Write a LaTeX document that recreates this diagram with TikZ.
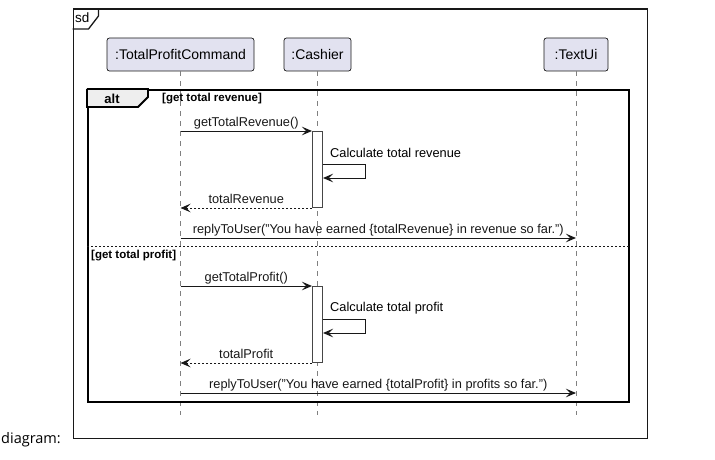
\documentclass[tikz,border=0pt]{standalone}
\usepackage{fontspec}
\setmainfont{Liberation Sans}
\newfontfamily\uifont{Open Sans}
\usetikzlibrary{positioning, arrows.meta, calc}
\definecolor{puFill}{HTML}{E2E2F0}
\definecolor{puLine}{HTML}{181818}
\definecolor{puTab}{HTML}{EEEEEE}
\tikzset{
  every node/.style={font=\fontsize{12.8}{14}\selectfont, inner sep=0pt},
  part/.style={draw=puLine, fill=puFill, rounded corners=2.5pt, minimum height=33pt,
               line width=0.7pt, font=\fontsize{14}{16}\selectfont},
  life/.style={puLine!55, dash pattern=on 5pt off 5pt, line width=0.7pt},
  act/.style={draw=puLine!80, fill=white, minimum width=10pt, line width=1pt},
  msg/.style={-{Stealth[length=10pt, width=8.5pt, inset=4pt]}, puLine, line width=1pt},
  ret/.style={msg, dash pattern=on 2pt off 2pt},
  lbl/.style={midway, anchor=base, yshift=5pt},
  guard/.style={font=\fontsize{11.5}{13}\selectfont\bfseries},
  frm/.style={draw, anchor=north west, fill=none},
}

\begin{document}
\begin{tikzpicture}[x=1pt, y=-1pt]
  \useasboundingbox (0,0) rectangle (715,460);
  % sd frame
  \node[frm, draw=puLine, line width=1.3pt, minimum width=574pt, minimum height=429pt] (sd) at (72.5,8.5) {};
  \draw[puLine, line width=1.3pt] (sd.north west) ++(0,20.5) -- ++(16,0) -- ++(10,-13) -- ++(0,-7.5);
  \node[anchor=west, font=\fontsize{13.5}{15}\selectfont] (sdlbl) at (75,18) {sd};
  \node[anchor=base west, font=\uifont\fontsize{14.5}{16}\selectfont] (cap) at (1,443) {diagram:};

  % participants and lifelines
  \node[part, minimum width=147pt] (tpc) at (180.5,54.5) {:TotalProfitCommand};
  \node[part, minimum width=67pt] (cash) at (317.5,54.5) {:Cashier};
  \node[part, minimum width=64pt] (tui) at (576,54.5) {:TextUi};
  \coordinate (lifeEnd) at (0,415);
  \foreach \p in {tpc, cash, tui}
    \draw[life] (\p.south) -- (\p.south |- lifeEnd);

  % alt fragment
  \node[frm, draw=black, line width=1.8pt, minimum width=541pt, minimum height=312pt] (alt) at (87,89) {};
  \draw[fill=puTab, line width=1.8pt] (alt.north west) -- ++(61,0) -- ++(0,8) -- ++(-10,10) -| (alt.north west);
  \node[font=\fontsize{13}{15}\selectfont\bfseries] (altlbl) at (112,98.5) {alt};
  \node[guard, anchor=west] (g1) at (162,98.5) {[get total revenue]};
  \coordinate (sep) at (0,246);
  \draw[puLine, dash pattern=on 2pt off 2pt, line width=0.9pt] (alt.west |- sep) -- (alt.east |- sep);
  \node[guard, anchor=west] (g2) at (91,256) {[get total profit]};

  % revenue branch
  \node[act, minimum height=76pt, anchor=north] (act1) at (cash.south |- 0,131) {};
  \draw[msg] (tpc.south |- act1.north) -- node[lbl] (m1) {getTotalRevenue()} (act1.north west);
  \coordinate (s1) at (365,164);
  \coordinate (s1b) at (365,178);
  \draw[msg] (act1.east |- s1) -- (s1) -- (s1b) -- (act1.east |- s1b);
  \node[anchor=west] (c1) at (330,153) {Calculate total revenue};
  \draw[ret] (act1.south west) -- node[lbl] (r1) {totalRevenue} (tpc.south |- act1.south);
  \coordinate (y1) at (0,238);
  \draw[msg] (tpc.south |- y1) -- node[lbl] (rep1)
    {replyToUser("You have earned \{totalRevenue\} in revenue so far.")} (tui.south |- y1);

  % profit branch
  \node[act, minimum height=76pt, anchor=north] (act2) at (cash.south |- 0,286) {};
  \draw[msg] (tpc.south |- act2.north) -- node[lbl] (m2) {getTotalProfit()} (act2.north west);
  \coordinate (s2) at (365,319);
  \coordinate (s2b) at (365,333);
  \draw[msg] (act2.east |- s2) -- (s2) -- (s2b) -- (act2.east |- s2b);
  \node[anchor=west] (c2) at (330,308) {Calculate total profit};
  \draw[ret] (act2.south west) -- node[lbl] (r2) {totalProfit} (tpc.south |- act2.south);
  \coordinate (y2) at (0,393);
  \draw[msg] (tpc.south |- y2) -- node[lbl] (rep2)
    {replyToUser("You have earned \{totalProfit\} in profits so far.")} (tui.south |- y2);
\end{tikzpicture}
\end{document}
